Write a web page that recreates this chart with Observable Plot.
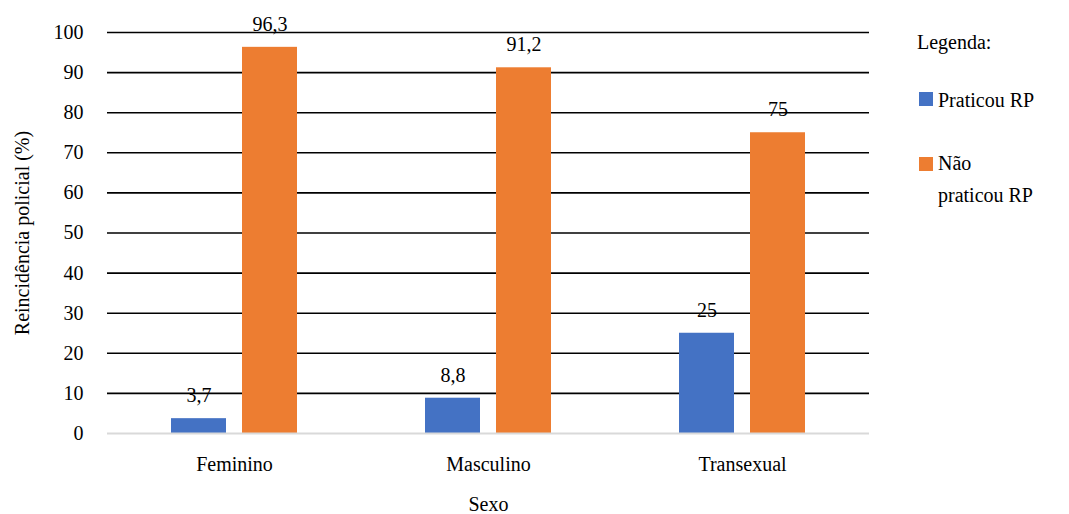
<!DOCTYPE html>
<html>
<head>
<meta charset="utf-8">
<script src="https://cdn.jsdelivr.net/npm/d3@7"></script>
<script src="https://cdn.jsdelivr.net/npm/@observablehq/plot@0.6"></script>
</head>
<body style="margin:0;background:white">
<div id="wrap" style="position:relative;width:1069px;height:514px;color:#000;font-family:'Liberation Serif',serif;font-size:20px"></div>
<script>
const sexos = ["Feminino", "Masculino", "Transexual"];
const series = ["Praticou RP", "Não praticou RP"];
const praticou = [3.7, 8.8, 25];
const naoPraticou = [96.3, 91.2, 75];
const colors = ["#4472C4", "#ED7D31"];
const yTicks = [0, 10, 20, 30, 40, 50, 60, 70, 80, 90, 100];

const data = [];
sexos.forEach((s, i) => {
  data.push({sexo: s, serie: series[0], valor: praticou[i]});
  data.push({sexo: s, serie: series[1], valor: naoPraticou[i]});
});
const fmt = v => String(v).replace(".", ",");
const FONT = "'Liberation Serif', serif";

const chart = Plot.plot({
  width: 1069,
  height: 514,
  marginLeft: 107,
  marginRight: 200,
  marginTop: 32,
  marginBottom: 81,
  style: {fontFamily: FONT, fontSize: "20px", color: "#000", background: "white"},
  fx: {domain: sexos, padding: 0, axis: null},
  x: {domain: series, paddingInner: 0.222, paddingOuter: 0.875, axis: null},
  y: {domain: [0, 100], axis: null},
  color: {domain: series, range: colors},
  marks: [
    Plot.ruleY(yTicks.filter(d => d > 0), {stroke: "#000", strokeWidth: 1.6}),
    Plot.barY(data, {fx: "sexo", x: "serie", y: "valor", fill: "serie"}),
    Plot.ruleY([0], {stroke: "#d9d9d9", strokeWidth: 2}),
    Plot.text(data, {fx: "sexo", x: "serie", y: "valor", text: d => fmt(d.valor), dy: -23, fontSize: 20, fill: "#000"}),
    Plot.axisY({ticks: yTicks, tickSize: 0, tickPadding: 24, fontSize: 20, label: "Reincidência policial (%)", labelAnchor: "center", labelOffset: 93, labelArrow: "none"}),
    Plot.axisFx({anchor: "bottom", tickSize: 0, tickPadding: 23, fontSize: 20, label: "Sexo", labelAnchor: "center", labelOffset: 77, labelArrow: "none"})
  ]
});
chart.setAttribute("font-family", FONT);
chart.setAttribute("font-size", "20");
chart.querySelectorAll("g, text, tspan").forEach(el => {
  el.setAttribute("font-family", FONT);
  el.style.setProperty("font-family", FONT, "important");
  el.style.setProperty("font-size", "20px", "important");
});

const wrap = document.getElementById("wrap");
wrap.appendChild(chart);

function addText(txt, left, center) {
  const d = document.createElement("div");
  d.textContent = txt;
  d.setAttribute("style", `position:absolute;left:${left}px;top:${center - 11}px;line-height:22px;white-space:nowrap;font-family:${FONT};font-size:20px;color:#000`);
  wrap.appendChild(d);
}
function addSwatch(color, left, top) {
  const d = document.createElement("div");
  d.setAttribute("style", `position:absolute;left:${left}px;top:${top}px;width:14px;height:14px;background:${color}`);
  wrap.appendChild(d);
}
addText("Legenda:", 917, 42);
addSwatch(colors[0], 919, 92);
addText("Praticou RP", 938, 100);
addSwatch(colors[1], 919, 157);
addText("Não", 938, 163);
addText("praticou RP", 938, 195);
</script>
</body>
</html>
